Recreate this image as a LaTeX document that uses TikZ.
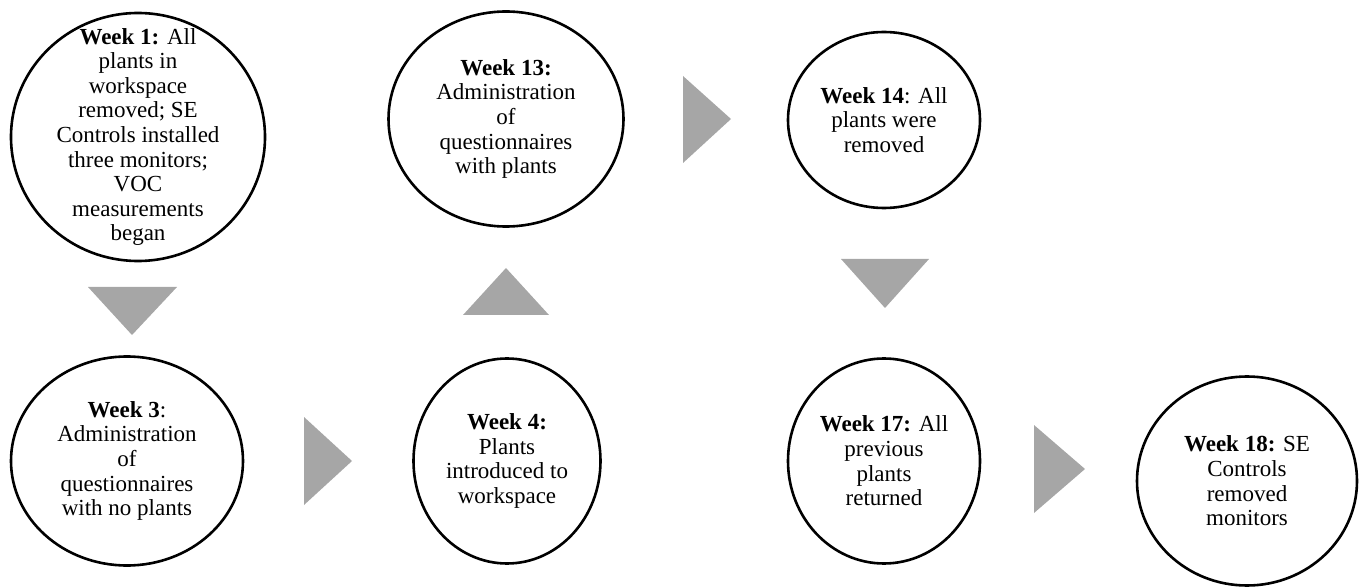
\documentclass[tikz,border=0pt]{standalone}
\usepackage{fontspec}
\setmainfont{Liberation Serif}
\usepackage{tikz}
\usetikzlibrary{
    positioning,                      % right=of, below=of, etc.
    shapes.geometric                  % ellipse
}
\definecolor{triangle_gray}{RGB}{166,166,166}
\tikzset{
    stage/.style={
        ellipse, draw, line width=2.6pt,
        inner sep=0pt
    },
    stagetext/.style={
        align=center, inner sep=0pt,
        font=\fontsize{23}{24.6}\selectfont
    },
    flowtri/.style={
        fill=triangle_gray
    }
}

\begin{document}
\begin{tikzpicture}[x=1pt, y=-1pt]

        \useasboundingbox (0,0) rectangle (1361,588);

        % Semanas (fila superior)
        \node[stage, minimum width=254pt, minimum height=248pt] (w1) at (138,137) {};
        \node[stage, minimum width=235pt, minimum height=215pt] (w13) at (506,119) {};
        \node[stage, minimum width=192pt, minimum height=176pt] (w14) at (884,120) {};

        % Semanas (fila inferior)
        \node[stage, minimum width=232pt, minimum height=209pt] (w3) at (127,461) {};
        \node[stage, minimum width=187pt, minimum height=205pt] (w4) at (507,461) {};
        \node[stage, minimum width=192pt, minimum height=205pt] (w17) at (884,461) {};
        \node[stage, minimum width=220pt, minimum height=209pt] (w18) at (1247,481) {};

        % Textos
        \node[stagetext] (w1text) at (w1)
            {\textbf{Week 1:} All\\plants in\\workspace\\removed; SE\\Controls installed\\three monitors;\\VOC\\measurements\\began};
        \node[stagetext] (w13text) at (w13)
            {\textbf{Week 13:}\\Administration\\of\\questionnaires\\with plants};
        \node[stagetext] (w14text) at (w14)
            {\textbf{Week 14}: All\\plants were\\removed};
        \node[stagetext] (w3text) at (w3)
            {\textbf{Week 3}:\\Administration\\of\\questionnaires\\with no plants};
        \node[stagetext] (w4text) at (w4)
            {\textbf{Week 4:}\\Plants\\introduced to\\workspace};
        \node[stagetext] (w17text) at (w17)
            {\textbf{Week 17:} All\\previous\\plants\\returned};
        \node[stagetext] (w18text) at (w18)
            {\textbf{Week 18:} SE\\Controls\\removed\\monitors};

        % Flechas triangulares
        \fill[flowtri] (88,287) -- (177,287) -- (132,335) -- cycle;
        \fill[flowtri] (304,417) -- (304,505) -- (352,461) -- cycle;
        \fill[flowtri] (463,315) -- (549,315) -- (506,268) -- cycle;
        \fill[flowtri] (683,76) -- (683,163) -- (731,119) -- cycle;
        \fill[flowtri] (841,259) -- (929,259) -- (885,308) -- cycle;
        \fill[flowtri] (1034,425) -- (1034,513) -- (1085,469) -- cycle;

    \end{tikzpicture}
\end{document}
